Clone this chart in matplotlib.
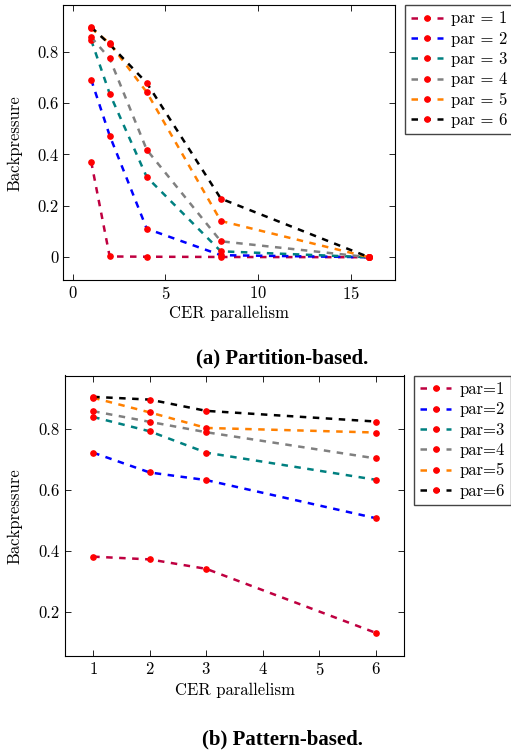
import matplotlib
matplotlib.use("Agg")
import matplotlib.pyplot as plt

# ---- data ----
colors = ["#BF0040", "#0000FF", "#008080", "#808080", "#FF8000", "#000000"]

part_x = [1, 2, 4, 8, 16]
part_y = [
    [0.372, 0.003, 0.002, 0.001, 0.0],
    [0.691, 0.473, 0.111, 0.008, 0.0],
    [0.845, 0.636, 0.312, 0.023, 0.0],
    [0.856, 0.773, 0.418, 0.062, 0.0],
    [0.891, 0.832, 0.642, 0.141, 0.0],
    [0.895, 0.828, 0.678, 0.228, 0.0],
]
part_labels = ["par = 1", "par = 2", "par = 3", "par = 4", "par = 5", "par = 6"]

patt_x = [1, 2, 3, 6]
patt_y = [
    [0.381, 0.372, 0.341, 0.131],
    [0.722, 0.657, 0.632, 0.507],
    [0.839, 0.792, 0.722, 0.633],
    [0.858, 0.823, 0.789, 0.703],
    [0.902, 0.854, 0.803, 0.788],
    [0.905, 0.896, 0.859, 0.824],
]
patt_labels = ["par=1", "par=2", "par=3", "par=4", "par=5", "par=6"]

plt.rcParams["font.family"] = "cmr10"
plt.rcParams["axes.formatter.use_mathtext"] = True
fs = 12

fig = plt.figure(figsize=(5.11, 7.51), dpi=100)
ax1 = fig.add_axes([0.124, 0.627, 0.649, 0.366])
ax2 = fig.add_axes([0.127, 0.126, 0.664, 0.374])


def draw(ax, xs, ys, labels):
    for y, c, lab in zip(ys, colors, labels):
        ax.plot(xs, y, color=c, linestyle=(0, (2.6, 2.6)), linewidth=1.8,
                marker="o", markersize=3.8, markerfacecolor="red",
                markeredgecolor="red", label=lab)
    ax.tick_params(direction="in", top=True, right=True, length=4,
                   width=0.6, labelsize=fs)
    for s in ax.spines.values():
        s.set_linewidth(0.8)
    ax.set_xlabel("CER parallelism", fontsize=fs, labelpad=3)
    ax.set_ylabel("Backpressure", fontsize=fs)
    ax.yaxis.set_label_coords(-0.124, 0.5)


def legend(ax, x0, y0):
    ax.legend(loc="upper left", bbox_to_anchor=(x0, y0),
              bbox_transform=fig.transFigure, borderaxespad=0,
              frameon=True, fancybox=False, edgecolor="#444444",
              framealpha=1, fontsize=fs, handlelength=1.9,
              labelspacing=0.3, borderpad=0.35, handletextpad=0.5)


draw(ax1, part_x, part_y, part_labels)
ax1.set_xlim(-0.5, 17.4)
ax1.set_ylim(-0.089, 0.98)
ax1.set_xticks([0, 5, 10, 15])
ax1.set_yticks([0, 0.2, 0.4, 0.6, 0.8])
ax1.set_yticklabels(["0", "0.2", "0.4", "0.6", "0.8"])
legend(ax1, 0.793, 0.993)

draw(ax2, patt_x, patt_y, patt_labels)
ax2.set_xlim(0.5, 6.5)
ax2.set_ylim(0.054, 0.975)
ax2.set_xticks([1, 2, 3, 4, 5, 6])
ax2.set_yticks([0.2, 0.4, 0.6, 0.8])
ax2.set_yticklabels(["0.2", "0.4", "0.6", "0.8"])
legend(ax2, 0.81, 0.4993)

fig.text(0.552, 1 - 358 / 751, "(a) Partition-based.", ha="center",
         va="center", family="Liberation Serif", weight="bold", fontsize=15)
fig.text(0.552, 1 - 739 / 751, "(b) Pattern-based.", ha="center",
         va="center", family="Liberation Serif", weight="bold", fontsize=15)

fig.savefig("out.png", dpi=100)
